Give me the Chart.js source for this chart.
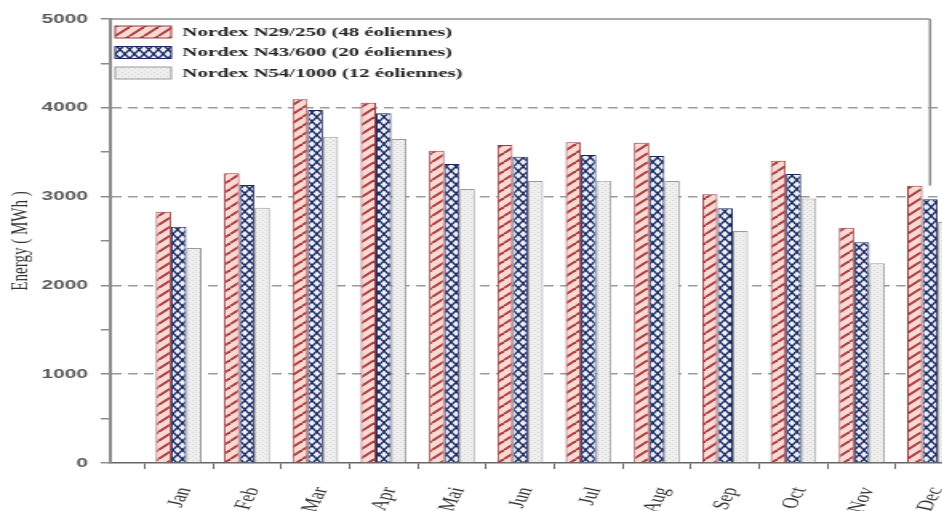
<!DOCTYPE html>
<html>
<head>
<meta charset="utf-8">
<script src="https://cdn.jsdelivr.net/npm/chart.js@4"></script>
<style>
  body { margin: 0; background: #fff; }
  #wrap { width: 942px; height: 511px; overflow: hidden; position: relative; }
  /* the source figure is stretched sideways, so the chart is drawn narrow and scaled */
  #energyChart { transform: scaleX(1.6); transform-origin: 0 0; }
</style>
</head>
<body>
<div id="wrap"><canvas id="energyChart" width="624" height="511"></canvas></div>
<script>
const months = ['Jan', 'Feb', 'Mar', 'Apr', 'Mai', 'Jun', 'Jul', 'Aug', 'Sep', 'Oct', 'Nov', 'Dec'];
const seriesNames = [
    'Nordex N29/250 (48 éoliennes)',
    'Nordex N43/600 (20 éoliennes)',
    'Nordex N54/1000 (12 éoliennes)'
];
const n29 = [2830, 3262, 4095, 4058, 3517, 3581, 3612, 3606, 3026, 3404, 2650, 3123];
const n43 = [2661, 3131, 3975, 3938, 3367, 3450, 3468, 3457, 2868, 3255, 2485, 2970];
const n54 = [2421, 2875, 3675, 3649, 3086, 3176, 3178, 3176, 2613, 2980, 2249, 2714];
const yTicks = [0, 1000, 2000, 3000, 4000, 5000];

// empty slot on each side, like the original plot
const labels = ['', ...months, ''];
const pad = arr => [null, ...arr, null];

function makePattern(w, h, draw) {
    const c = document.createElement('canvas');
    c.width = w;
    c.height = h;
    const g = c.getContext('2d');
    draw(g, w, h);
    return g.createPattern(c, 'repeat');
}

const ctx = document.getElementById('energyChart').getContext('2d');

const hatchRed = makePattern(9, 9, (g, w, h) => {
    g.fillStyle = '#fadad2';
    g.fillRect(0, 0, w, h);
    g.strokeStyle = '#a83a40';
    g.lineWidth = 1.9;
    for (let k = -1; k <= 1; k++) {
        g.beginPath();
        g.moveTo(k * w, h);
        g.lineTo(k * w + w, 0);
        g.stroke();
    }
});

const crossBlue = makePattern(6, 9, (g, w, h) => {
    g.fillStyle = '#eef2fb';
    g.fillRect(0, 0, w, h);
    g.strokeStyle = '#1d2a60';
    g.lineWidth = 1.4;
    g.beginPath();
    g.moveTo(0, 0); g.lineTo(w, h);
    g.moveTo(w, 0); g.lineTo(0, h);
    g.stroke();
});

const dotGray = makePattern(4, 4, (g, w, h) => {
    g.fillStyle = '#eeeeee';
    g.fillRect(0, 0, w, h);
    g.fillStyle = '#dadada';
    g.fillRect(0, 0, 1, 1);
    g.fillRect(2, 2, 1, 1);
});

// top and right border of the plot frame (right edge sits at the Dec group centre)
const framePlugin = {
    id: 'frame',
    afterDraw(chart) {
        const a = chart.chartArea;
        const xr = chart.scales.x.getPixelForTick(months.length);
        const c = chart.ctx;
        c.save();
        c.strokeStyle = '#8c8c8c';
        c.lineWidth = 1.5;
        c.beginPath();
        c.moveTo(a.left, a.top);
        c.lineTo(xr, a.top);
        c.stroke();
        // right edge only shows above the Dec bars
        const topBar = Math.min(...chart.data.datasets.map((ds, i) => chart.getDatasetMeta(i).data[months.length].y));
        c.beginPath();
        c.moveTo(xr, a.top);
        c.lineTo(xr, topBar);
        c.stroke();
        c.restore();
    }
};

// legend drawn inside the plot, top left
const legendPlugin = {
    id: 'insideLegend',
    afterDatasetsDraw(chart) {
        const a = chart.chartArea;
        const c = chart.ctx;
        c.save();
        chart.data.datasets.forEach((ds, i) => {
            const y = a.top + 7 + i * 20.5;
            c.fillStyle = ds.backgroundColor;
            c.fillRect(a.left + 3, y, 35, 12);
            c.strokeStyle = ds.borderColor;
            c.lineWidth = 1;
            c.strokeRect(a.left + 3, y, 35, 12);
            c.fillStyle = '#222';
            c.font = 'bold 13px "Liberation Serif", serif';
            c.textBaseline = 'middle';
            c.fillText(ds.label, a.left + 45, y + 6.5);
        });
        c.restore();
    }
};

new Chart(ctx, {
    type: 'bar',
    data: {
        labels,
        datasets: [
            { label: seriesNames[0], data: pad(n29), backgroundColor: hatchRed, borderColor: '#9a3b3f', borderWidth: 1 },
            { label: seriesNames[1], data: pad(n43), backgroundColor: crossBlue, borderColor: '#1d2a60', borderWidth: 1 },
            { label: seriesNames[2], data: pad(n54), backgroundColor: dotGray, borderColor: '#9a9a9a', borderWidth: 1 }
        ]
    },
    options: {
        responsive: false,
        animation: false,
        layout: { padding: { top: 19, right: 0, bottom: 0, left: 0 } },
        categoryPercentage: 0.67,
        barPercentage: 1,
        plugins: {
            legend: { display: false },
            tooltip: { enabled: false }
        },
        scales: {
            x: {
                offset: false,
                grid: {
                    drawOnChartArea: false,
                    tickLength: 6,
                    tickColor: c => (c.index === 0 || c.index === labels.length - 1) ? 'transparent' : '#666'
                },
                border: { color: '#666', width: 1.5 },
                ticks: {
                    autoSkip: false,
                    minRotation: 72,
                    maxRotation: 72,
                    labelOffset: 4,
                    padding: 16,
                    color: '#333',
                    font: { family: '"Liberation Serif", serif', size: 15 }
                },
                afterFit(scale) {
                    scale.height = 48;
                    scale.paddingRight = 0;
                }
            },
            y: {
                min: 0,
                max: 5000,
                ticks: {
                    stepSize: 500,
                    padding: 8,
                    color: '#5a5a5a',
                    font: { family: '"Liberation Sans", Arial, sans-serif', size: 13, weight: 'bold' },
                    callback: v => yTicks.includes(v) ? v : ''
                },
                grid: {
                    lineWidth: 1.5,
                    tickLength: 6,
                    tickColor: '#8c8c8c',
                    color: c => (c.tick && c.tick.value % 1000 === 0 && c.tick.value > 0 && c.tick.value < 5000) ? '#9a9a9a' : 'transparent'
                },
                border: { color: '#8c8c8c', width: 2, dash: [6, 4] },
                title: {
                    display: true,
                    text: 'Energy ( MWh )',
                    color: '#333',
                    font: { family: '"Liberation Serif", serif', size: 15 },
                    padding: { top: 4, bottom: 0 }
                },
                afterFit(scale) { scale.width = 69; }
            }
        }
    },
    plugins: [framePlugin, legendPlugin]
});
</script>
</body>
</html>
